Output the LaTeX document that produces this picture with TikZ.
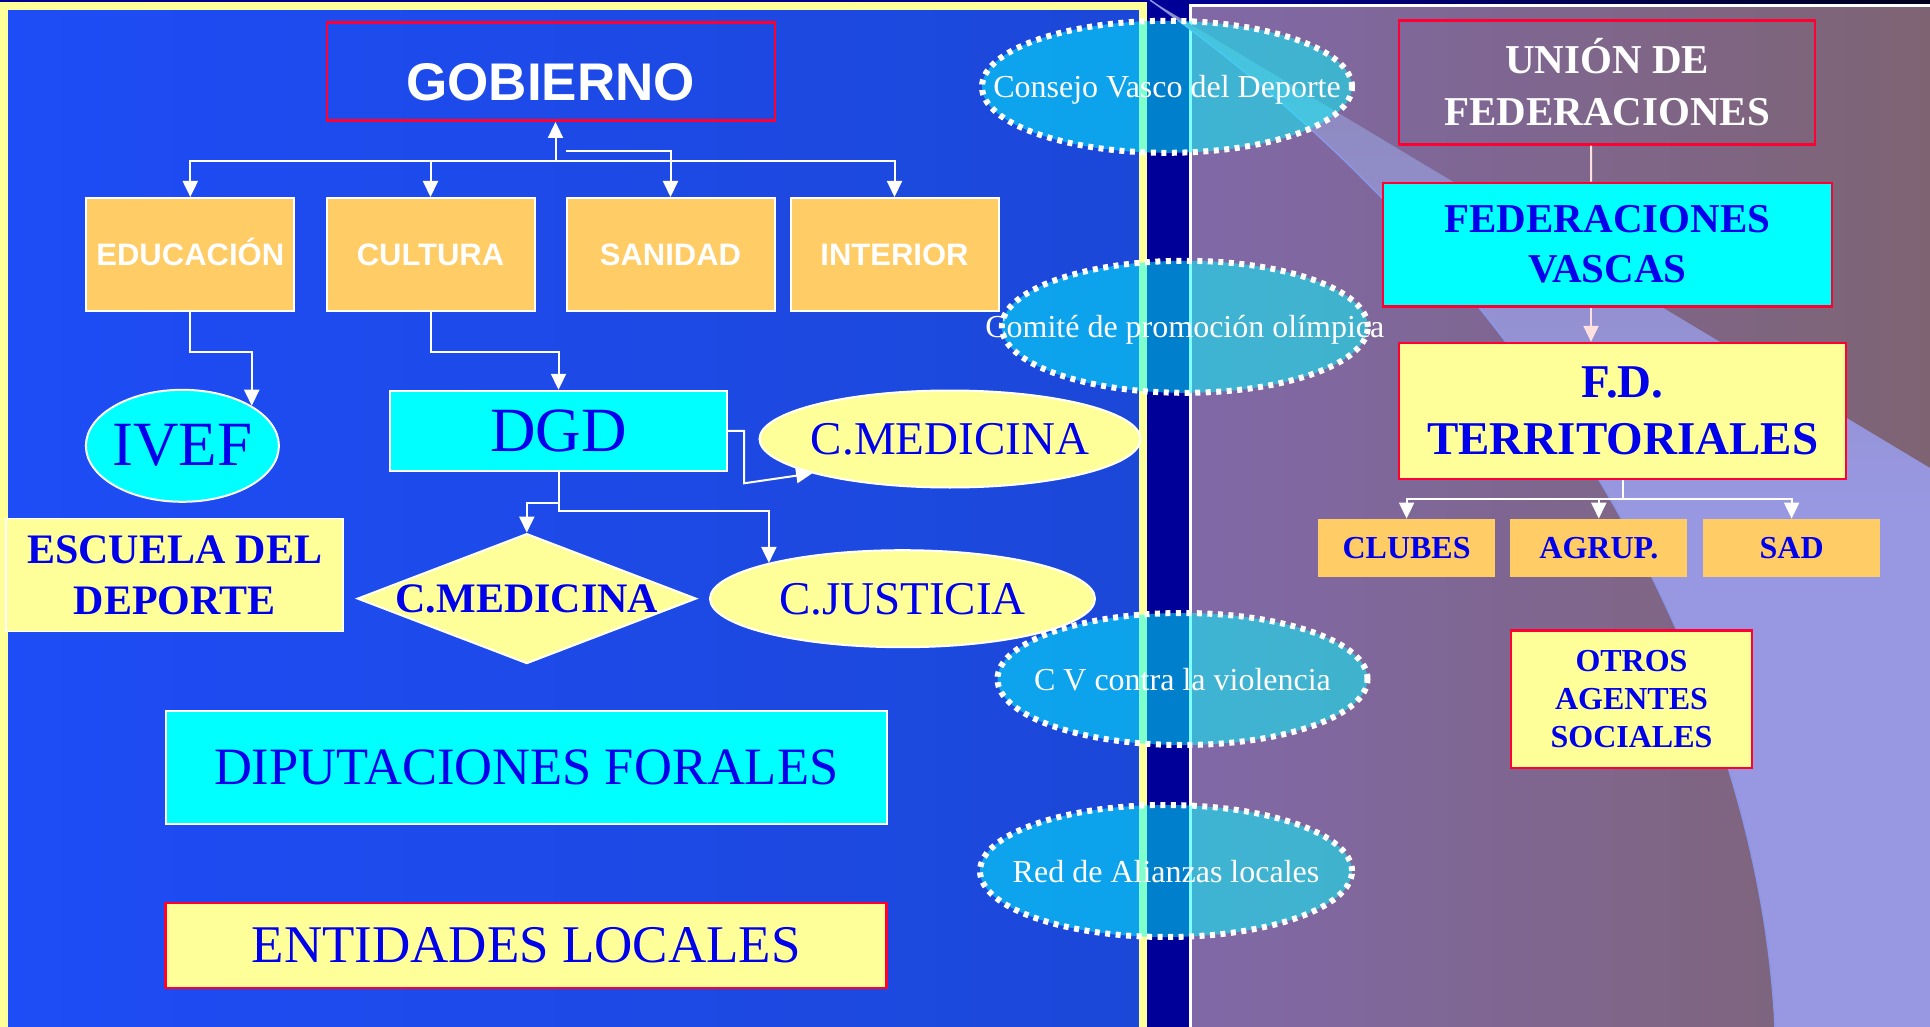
\documentclass[tikz,border=0pt]{standalone}
\usepackage{fontspec}
\setmainfont{Liberation Serif}
\newfontfamily\arialfont{Liberation Sans}
\usepackage{tikz}
\usetikzlibrary{arrows.meta, shapes.geometric}
\definecolor{navyband}{RGB}{0,0,153}
\definecolor{paneltop}{RGB}{0,0,30}
\definecolor{panelblue}{RGB}{30,76,246}
\definecolor{panelblueR}{RGB}{28,72,216}
\definecolor{borderyellow}{RGB}{255,255,153}
\definecolor{purpleL}{RGB}{128,104,168}
\definecolor{purpleR}{RGB}{126,100,114}
\definecolor{wedgetop}{RGB}{140,134,184}
\definecolor{wedgebot}{RGB}{152,152,226}
\definecolor{wedgeedge}{RGB}{140,150,232}
\definecolor{deptorange}{RGB}{255,204,102}
\definecolor{paleyellow}{RGB}{255,255,153}
\definecolor{cyanfill}{RGB}{0,255,255}
\definecolor{redframe}{RGB}{255,0,51}
\definecolor{textblue}{RGB}{0,0,235}
\definecolor{pinkwire}{RGB}{255,224,224}
\newcommand\fsz[2]{\fontsize{#1}{#2}\selectfont}
\newcommand\nowidth[1]{\makebox[0pt]{#1}}

\begin{document}
\begin{tikzpicture}[x=1pt, y=-1pt, >={Triangle[length=16pt, width=15pt]},
  every node/.style={inner sep=0pt},
  whiteline/.style={draw=white, line width=2pt},
  redline/.style={draw=redframe, line width=2.5pt},
  cyanbox/.style={fill=cyanfill, text=textblue},
  palebox/.style={fill=paleyellow, text=textblue},
  dept/.style={rectangle, whiteline, fill=deptorange, minimum width=208pt, minimum height=113pt, text=white, text height=22pt, text depth=0pt, font=\arialfont\bfseries\fsz{31}{37}},
  club/.style={rectangle, fill=deptorange, minimum width=177pt, minimum height=58pt, text=textblue, font=\bfseries\fsz{32}{38}},
  oval/.style={ellipse, whiteline, fill=paleyellow, text=textblue},
  council/.style={ellipse, draw=white, line width=6pt, dash pattern=on 5pt off 5.5pt, fill=cyanfill, fill opacity=0.5, text opacity=1, text=white, text depth=0pt, minimum width=370pt, minimum height=132pt, font=\fsz{32}{38}},
  wire/.style={draw=white, line width=2pt, ->}]
\useasboundingbox (0,0) rectangle (1930,1027);
\clip (0,0) rectangle (1930,1027);
\fill[navyband] (0,0) rectangle (1930,1027);
\shade[left color=navyband, right color=paneltop] (1150,0) rectangle (1930,6);
\shade[left color=panelblue, right color=panelblueR] (4,6) rectangle (1143,1040);
\draw[borderyellow, line width=8pt] (4,6) rectangle (1143,1040);
\shade[left color=purpleL, right color=purpleR] (1190,6) rectangle (1940,1040);
\draw[white, line width=3pt] (1190,1040) -- (1190,6) -- (1940,6);
\shade[top color=wedgetop, bottom color=wedgebot, middle color=wedgebot] (1150,0) .. controls (1560,290) and (1760,700) .. (1775,1027) -- (1930,1027) -- (1930,468) -- cycle;
\draw[wedgeedge, line width=1.5pt] (1150,0) .. controls (1560,290) and (1760,700) .. (1775,1027);

\node[redline, text=white, font=\arialfont\bfseries\fsz{53}{60}, minimum width=448pt, minimum height=98pt, text height=57pt, text depth=0pt] (gob) at (550.75,71.7) {GOBIERNO};
\node[dept] (edu) at (190.3,254.5) {EDUCACIÓN};
\node[dept] (cul) at (430.5,254.5) {CULTURA};
\node[dept] (san) at (670.5,254.5) {SANIDAD};
\node[dept] (intr) at (894.5,254.5) {INTERIOR};
\node[oval, fill=cyanfill, minimum width=193pt, minimum height=112pt, font=\fsz{63}{70}] (ivef) at (182.4,445.8) {\nowidth{IVEF}};
\node[rectangle, cyanbox, whiteline, minimum width=337pt, minimum height=80pt, font=\fsz{63}{70}] (dgd) at (558.5,430.8) {DGD};
\node[oval, minimum width=381pt, minimum height=97pt, font=\fsz{47}{52}] (cmedA) at (950,439) {\nowidth{C.MEDICINA}};
\node[rectangle, palebox, draw=white, line width=1.5pt, align=center, minimum width=337pt, minimum height=113pt, font=\bfseries\fsz{42}{51}] (escuela) at (174.7,575.2) {ESCUELA DEL\\DEPORTE};
\node[diamond, palebox, whiteline, minimum width=339pt, minimum height=130pt, text depth=0pt, font=\bfseries\fsz{42}{48}] (cmedB) at (526.8,598.6) {\nowidth{C.MEDICINA}};
\node[oval, minimum width=385pt, minimum height=97pt, text depth=0pt, font=\fsz{47}{52}] (cjus) at (902.5,598.7) {\nowidth{C.JUSTICIA}};
\node[rectangle, cyanbox, whiteline, minimum width=721pt, minimum height=113pt, font=\fsz{52.5}{60}] (dipu) at (526.2,767.1) {DIPUTACIONES FORALES};
\node[rectangle, palebox, redline, minimum width=721pt, minimum height=85pt, font=\fsz{53}{60}] (ent) at (526.2,945.4) {ENTIDADES LOCALES};

\node[rectangle, redline, text=white, align=center, minimum width=416pt, minimum height=124pt, font=\bfseries\fsz{41}{52}] (union) at (1607.2,82.5) {UNIÓN DE\\FEDERACIONES};
\node[rectangle, cyanbox, redline, align=center, minimum width=449pt, minimum height=123.5pt, font=\bfseries\fsz{41}{50}] (fedv) at (1607.4,244.7) {FEDERACIONES\\VASCAS};
\node[rectangle, palebox, redline, align=center, minimum width=447pt, minimum height=136pt, font=\bfseries\fsz{47}{57}] (fdt) at (1622.7,411.1) {F.D.\\TERRITORIALES};
\node[club] (clubes) at (1406.6,547.8) {CLUBES};
\node[club] (agrup) at (1598.8,547.8) {AGRUP.};
\node[club] (sad) at (1791.6,547.8) {SAD};
\node[rectangle, palebox, redline, align=center, minimum width=241pt, minimum height=137.5pt, font=\bfseries\fsz{32}{38}] (otros) at (1631.5,699.2) {OTROS\\AGENTES\\SOCIALES};

\coordinate (hub) at (555.5,160.7);
\coordinate (hubs) at (566,150.7);
\coordinate (fork) at (1622.7,499);
\draw[wire] (hub) -- (hub |- gob.south);
\draw[wire] (hub) -| (edu.north);
\draw[wire] (hub) -| (cul.north);
\draw[wire] (hub) -| (intr.north);
\draw[wire] (hubs) -| (san.north);
\draw[wire] (edu.south) -- ++(0,39.7) -| (ivef.30.5);
\draw[wire] (cul.south) -- ++(0,39.7) -| (dgd.north);
\draw[wire] (dgd.east) -- ++(16,0) -- ++(0,52.5) -- (cmedA.194.6);
\draw[wire] (dgd.south) -- ++(0,31) -| (cmedB.north);
\draw[wire] (dgd.south) -- ++(0,39) -| (cjus.165.7);
\draw[pinkwire, line width=2pt] ([xshift=-16pt]union.south) -- ([xshift=-16.4pt]fedv.north);
\draw[pinkwire, line width=2pt, ->] ([xshift=-16.4pt]fedv.south) -- ([xshift=-16.4pt]fedv.south |- fdt.north);
\draw[white, line width=2pt] (fdt.south) -- (fork);
\draw[wire] (fork) -| (clubes.north);
\draw[wire] (fork) -| (agrup.north);
\draw[wire] (fork) -| (sad.north);

\node[council] (cvd) at (1167,86.8) {\nowidth{Consejo Vasco del Deporte}};
\node[council, minimum width=366pt] (coe) at (1184.8,326.8) {\nowidth{Comité de promoción olímpica}};
\node[council] (cvv) at (1182.5,679) {\nowidth{C V contra la violencia}};
\node[council, minimum width=372pt] (ral) at (1166,871) {\nowidth{Red de Alianzas locales}};
\end{tikzpicture}
\end{document}
